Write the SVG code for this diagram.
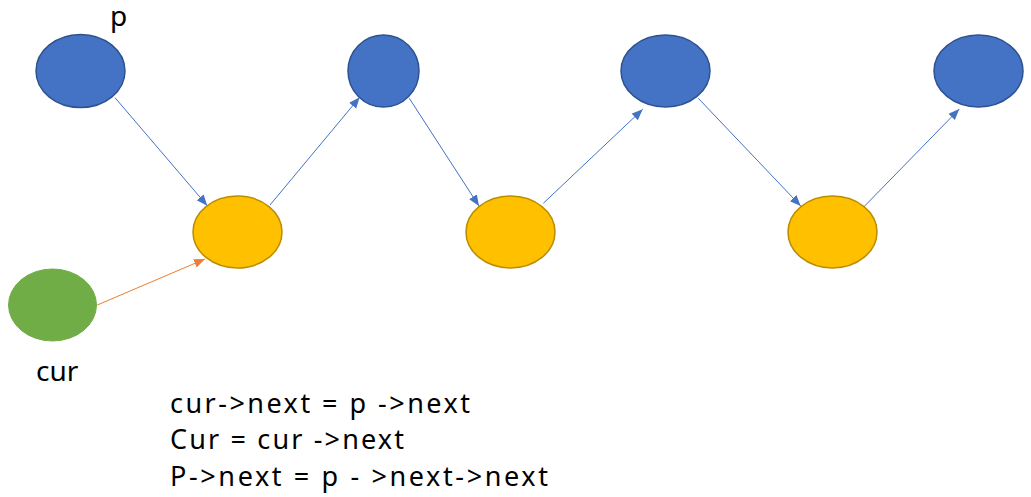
<svg xmlns="http://www.w3.org/2000/svg" width="1031" height="497" viewBox="0 0 1031 497">
<style>
.blue{fill:#4472C4;stroke:#2F528F;stroke-width:1.5}
.yellow{fill:#FFC000;stroke:#BC8C00;stroke-width:1.5}
.green{fill:#70AD47;stroke:#70AD47;stroke-width:1}
.lb{stroke:#4472C4;stroke-width:1;fill:none;marker-end:url(#ab)}
.lo{stroke:#ED7D31;stroke-width:1;fill:none;marker-end:url(#ao)}
text{font-family:"Noto Sans","Noto Sans CJK SC",sans-serif;fill:#000}
.lbl{font-size:28px}
.code{font-size:27px}
</style>
<defs>
<marker id="ab" markerUnits="userSpaceOnUse" markerWidth="12" markerHeight="10" refX="11" refY="4.5" orient="auto"><path d="M0,0 L11,4.5 L0,9 z" fill="#4472C4"/></marker>
<marker id="ao" markerUnits="userSpaceOnUse" markerWidth="12" markerHeight="10" refX="11" refY="4.5" orient="auto"><path d="M0,0 L11,4.5 L0,9 z" fill="#ED7D31"/></marker>
</defs>
<rect width="1031" height="497" fill="#fff"/>
<g id="connectors">
<line class="lb" x1="115" y1="97.7" x2="207.3" y2="205.7"/>
<line class="lb" x1="270" y1="205" x2="359.7" y2="97.3"/>
<line class="lb" x1="409.3" y1="98.3" x2="479" y2="206"/>
<line class="lb" x1="543.3" y1="203.3" x2="642.7" y2="109.3"/>
<line class="lb" x1="698.3" y1="98.3" x2="800.7" y2="206"/>
<line class="lb" x1="864" y1="206.7" x2="959.3" y2="109"/>
<line class="lo" x1="97.3" y1="305" x2="205" y2="259"/>
</g>
<g id="p1"><ellipse class="blue" cx="80.5" cy="71" rx="44.5" ry="36.5"/></g>
<g id="p2"><ellipse class="blue" cx="383.5" cy="71" rx="35.5" ry="36"/></g>
<g id="p3"><ellipse class="blue" cx="665.5" cy="71" rx="44.5" ry="36"/></g>
<g id="p4"><ellipse class="blue" cx="978.5" cy="71" rx="44.5" ry="36"/></g>
<g id="y1"><ellipse class="yellow" cx="237.5" cy="232" rx="44.5" ry="36"/></g>
<g id="y2"><ellipse class="yellow" cx="510.5" cy="232" rx="44.5" ry="36"/></g>
<g id="y3"><ellipse class="yellow" cx="832.5" cy="232" rx="44.5" ry="36"/></g>
<g id="cur"><ellipse class="green" cx="52.5" cy="305" rx="44" ry="36"/></g>
<g id="labels">
<text class="lbl" x="110" y="26">p</text>
<text class="lbl" x="36" y="381">cur</text>
</g>
<g id="code">
<text class="code" x="170" y="413" textLength="300" lengthAdjust="spacing">cur-&gt;next = p -&gt;next</text>
<text class="code" x="170" y="449" textLength="234" lengthAdjust="spacing">Cur = cur -&gt;next</text>
<text class="code" x="170" y="486" textLength="378" lengthAdjust="spacing">P-&gt;next = p - &gt;next-&gt;next</text>
</g>
</svg>
